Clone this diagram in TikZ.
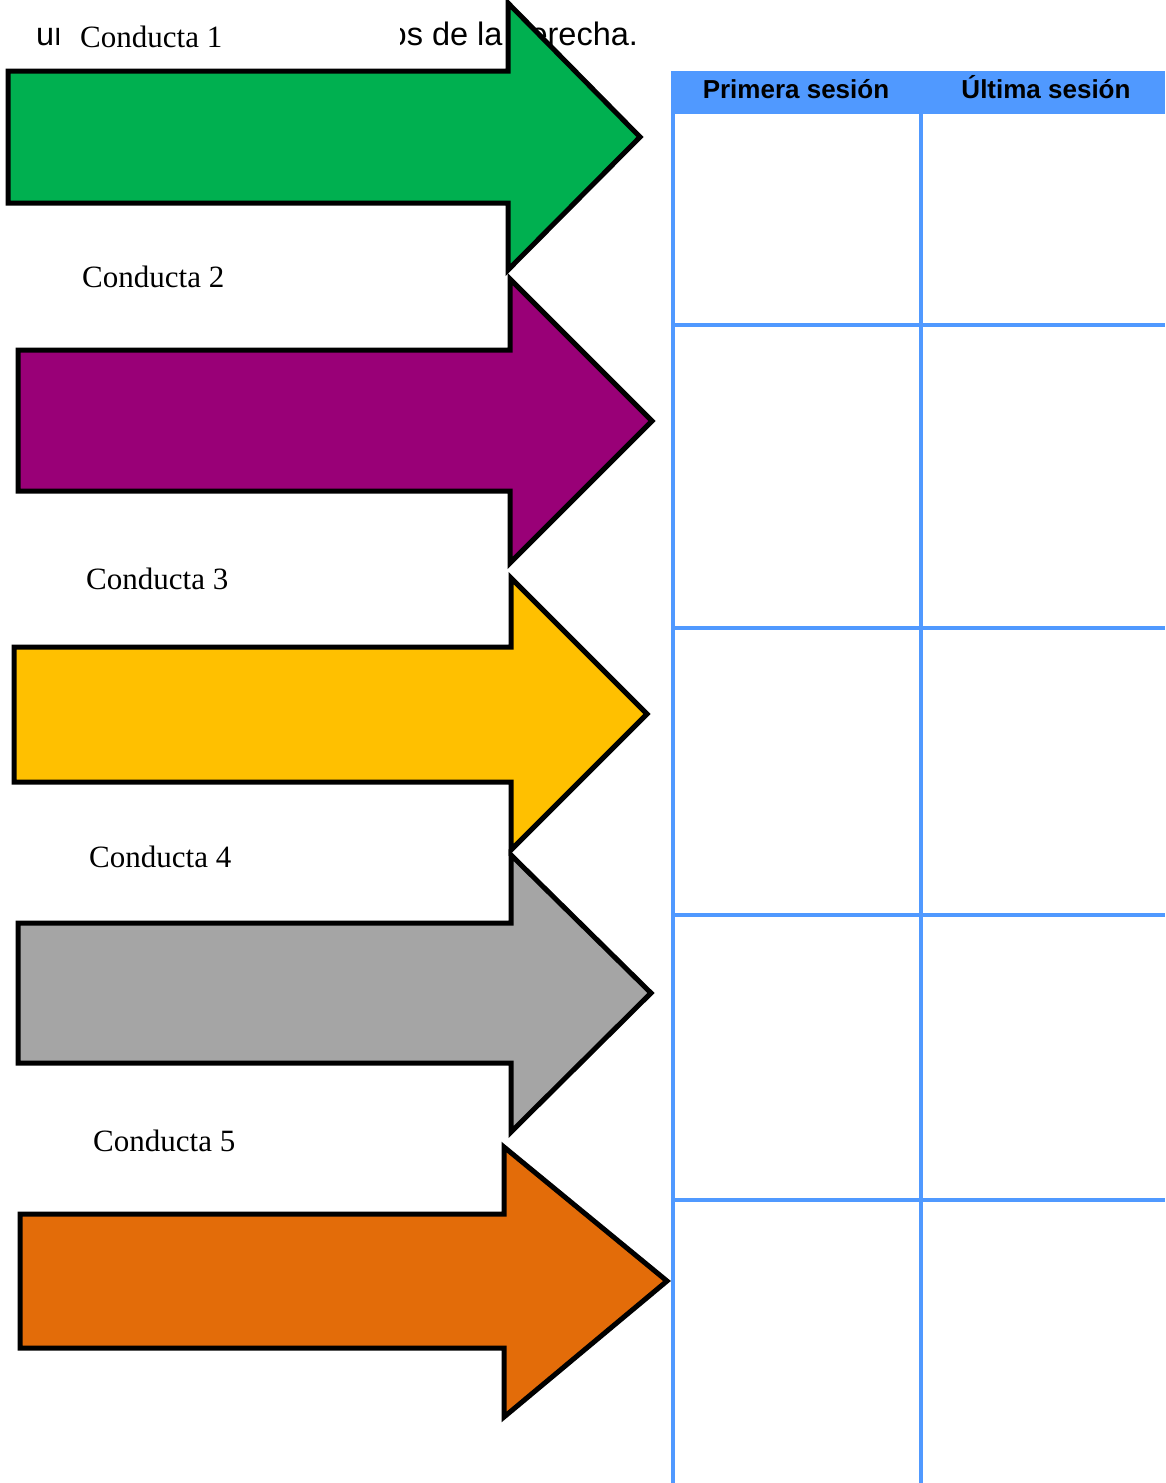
\documentclass[tikz,border=0pt]{standalone}
\usepackage{fontspec}
\setmainfont{Liberation Serif}
\newfontfamily\arialfont{Liberation Sans}
\definecolor{cgreen}{HTML}{00B050}
\definecolor{cpurple}{HTML}{990077}
\definecolor{cyellow}{HTML}{FFC000}
\definecolor{cgray}{HTML}{A5A5A5}
\definecolor{corange}{HTML}{E36C09}
\definecolor{cblue}{HTML}{5099FF}
\tikzset{
  bigarrow/.style={draw=black, line width=5pt, line join=miter, miter limit=10},
  conlabel/.style={anchor=base west, inner sep=0pt, font=\fontsize{31}{31}\selectfont},
  headtext/.style={anchor=base, inner sep=0pt, font=\arialfont\bfseries\fontsize{26}{26}\selectfont},
  sentence/.style={anchor=base west, inner sep=0pt, font=\arialfont\fontsize{32.5}{32.5}\selectfont},
  gridline/.style={draw=cblue, line width=4pt}
}
\begin{document}
\begin{tikzpicture}[x=1pt,y=-1pt]
\useasboundingbox (0,0) rectangle (1165,1483);
\clip (0,0) rectangle (1165,1483);
% sentence partly hidden
\node[sentence] (s1) at (36,45) {un};
\node[sentence] (s2) at (388.5,45) {os de la derecha.};
% white label box hiding part of the sentence
\fill[white] (59,6) rectangle (400,66);
\node[conlabel] (c1) at (80,47) {Conducta 1};
% table
\fill[cblue] (671,71) rectangle (1165,114);
\node[headtext] (h1) at (796,98) {Primera sesión};
\node[headtext] (h2) at (1046,98) {Última sesión};
\draw[gridline] (673,71) -- (673,1483);
\draw[gridline] (921,112) -- (921,1483);
\foreach \yy in {325,628,915,1200} {
  \draw[gridline] (673,\yy) -- (1165,\yy);
}
% arrows
\draw[bigarrow, fill=cgreen] (8,71) -- (508,71) -- (508,3) -- (640,137) -- (508,270) -- (508,203) -- (8,203) -- cycle;
\draw[bigarrow, fill=cpurple] (18,350) -- (510,350) -- (510,279) -- (652,421) -- (510,563) -- (510,491) -- (18,491) -- cycle;
\draw[bigarrow, fill=cyellow] (14,647) -- (511,647) -- (511,578) -- (647,714) -- (511,850) -- (511,782) -- (14,782) -- cycle;
\draw[bigarrow, fill=cgray] (18,923) -- (511,923) -- (511,855) -- (651,993) -- (511,1132) -- (511,1063) -- (18,1063) -- cycle;
\draw[bigarrow, fill=corange] (20,1214) -- (504,1214) -- (504,1147) -- (667,1281) -- (504,1417) -- (504,1348) -- (20,1348) -- cycle;
% labels
\node[conlabel] (c2) at (82,287) {Conducta 2};
\node[conlabel] (c3) at (86,589) {Conducta 3};
\node[conlabel] (c4) at (89,867) {Conducta 4};
\node[conlabel] (c5) at (93,1151) {Conducta 5};
\end{tikzpicture}
\end{document}
